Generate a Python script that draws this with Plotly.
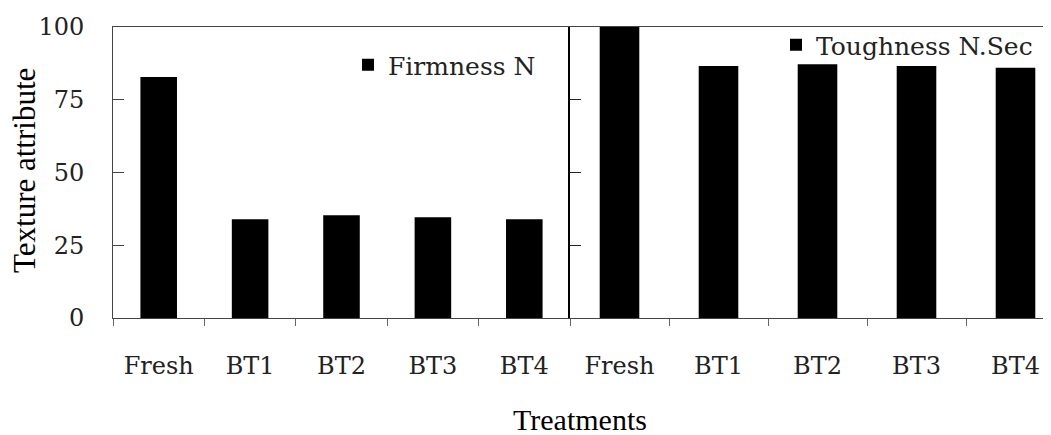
import plotly.graph_objects as go

categories = ["Fresh", "BT1", "BT2", "BT3", "BT4"]
firmness = [82.8, 33.9, 35.3, 34.6, 33.9]
toughness = [100.0, 86.6, 87.2, 86.6, 86.0]
y_ticks = [0, 25, 50, 75, 100]

# the page body adds an 8px offset; positions below are given in window pixels
OFF = 8
W, H = 1051 - OFF, 435 - OFF
ML, MT, MR = 113 - OFF, 27 - OFF, 0
MB = H - (318 - OFF)
PW = W - ML - MR
PH = H - MT - MB
split = (570 - 113) / PW

def px_x(p):
    return (p - OFF - ML) / PW

def px_y(p):
    return (H - MB - (p - OFF)) / PH

tick_font = dict(family="DejaVu Serif", size=24, color="#222")
legend_font = dict(family="DejaVu Serif", size=25, color="#222")

fig = go.Figure()
fig.add_trace(go.Bar(x=categories, y=firmness, name="Firmness N",
                     marker=dict(color="black", line=dict(width=0)),
                     xaxis="x", yaxis="y", legend="legend", showlegend=True))
fig.add_trace(go.Bar(x=categories, y=toughness, name="Toughness N.Sec",
                     marker=dict(color="black", line=dict(width=0)),
                     xaxis="x2", yaxis="y2", legend="legend2", showlegend=True))

right_units = (1051 - 570) / 99.0

axis_common = dict(showgrid=False, zeroline=False, showline=True, linecolor="#444",
                   linewidth=1, ticks="outside", ticklen=7, tickcolor="#666",
                   tickson="boundaries", tickfont=tick_font, mirror=True,
                   ticklabelstandoff=26)

fig.update_layout(
    width=W, height=H,
    margin=dict(l=ML, r=MR, t=MT, b=MB),
    paper_bgcolor="white", plot_bgcolor="white",
    bargap=0.6,
    showlegend=True,
    xaxis=dict(domain=[0, split], range=[-0.5, 4.5], anchor="y", **axis_common),
    xaxis2=dict(domain=[split, 1], range=[-0.5, -0.5 + right_units], anchor="y2", **axis_common),
    yaxis=dict(range=[0, 100], tickvals=y_ticks, ticks="inside", ticklen=11,
               tickcolor="#444", showline=True, linecolor="#444", linewidth=1,
               showgrid=False, zeroline=False, tickfont=tick_font,
               ticklabelstandoff=23, anchor="x"),
    yaxis2=dict(range=[0, 100], tickvals=y_ticks, ticks="inside", ticklen=11,
                tickcolor="#222", showline=True, linecolor="black", linewidth=2,
                showgrid=False, zeroline=False, showticklabels=False, anchor="x2"),
    legend=dict(x=px_x(348), y=px_y(65), xanchor="left", yanchor="middle",
                bgcolor="rgba(0,0,0,0)", font=legend_font),
    legend2=dict(x=px_x(776), y=px_y(45), xanchor="left", yanchor="middle",
                 bgcolor="rgba(0,0,0,0)", font=legend_font),
    annotations=[
        dict(text="Texture attribute", xref="paper", yref="paper",
             x=px_x(24), y=px_y(171), textangle=-90, showarrow=False,
             xanchor="center", yanchor="middle",
             font=dict(family="Liberation Serif", size=31, color="black")),
        dict(text="Treatments", xref="paper", yref="paper",
             x=px_x(580), y=px_y(419), showarrow=False,
             xanchor="center", yanchor="middle",
             font=dict(family="Liberation Serif", size=30, color="black")),
    ],
)

fig.write_html("out.html")
